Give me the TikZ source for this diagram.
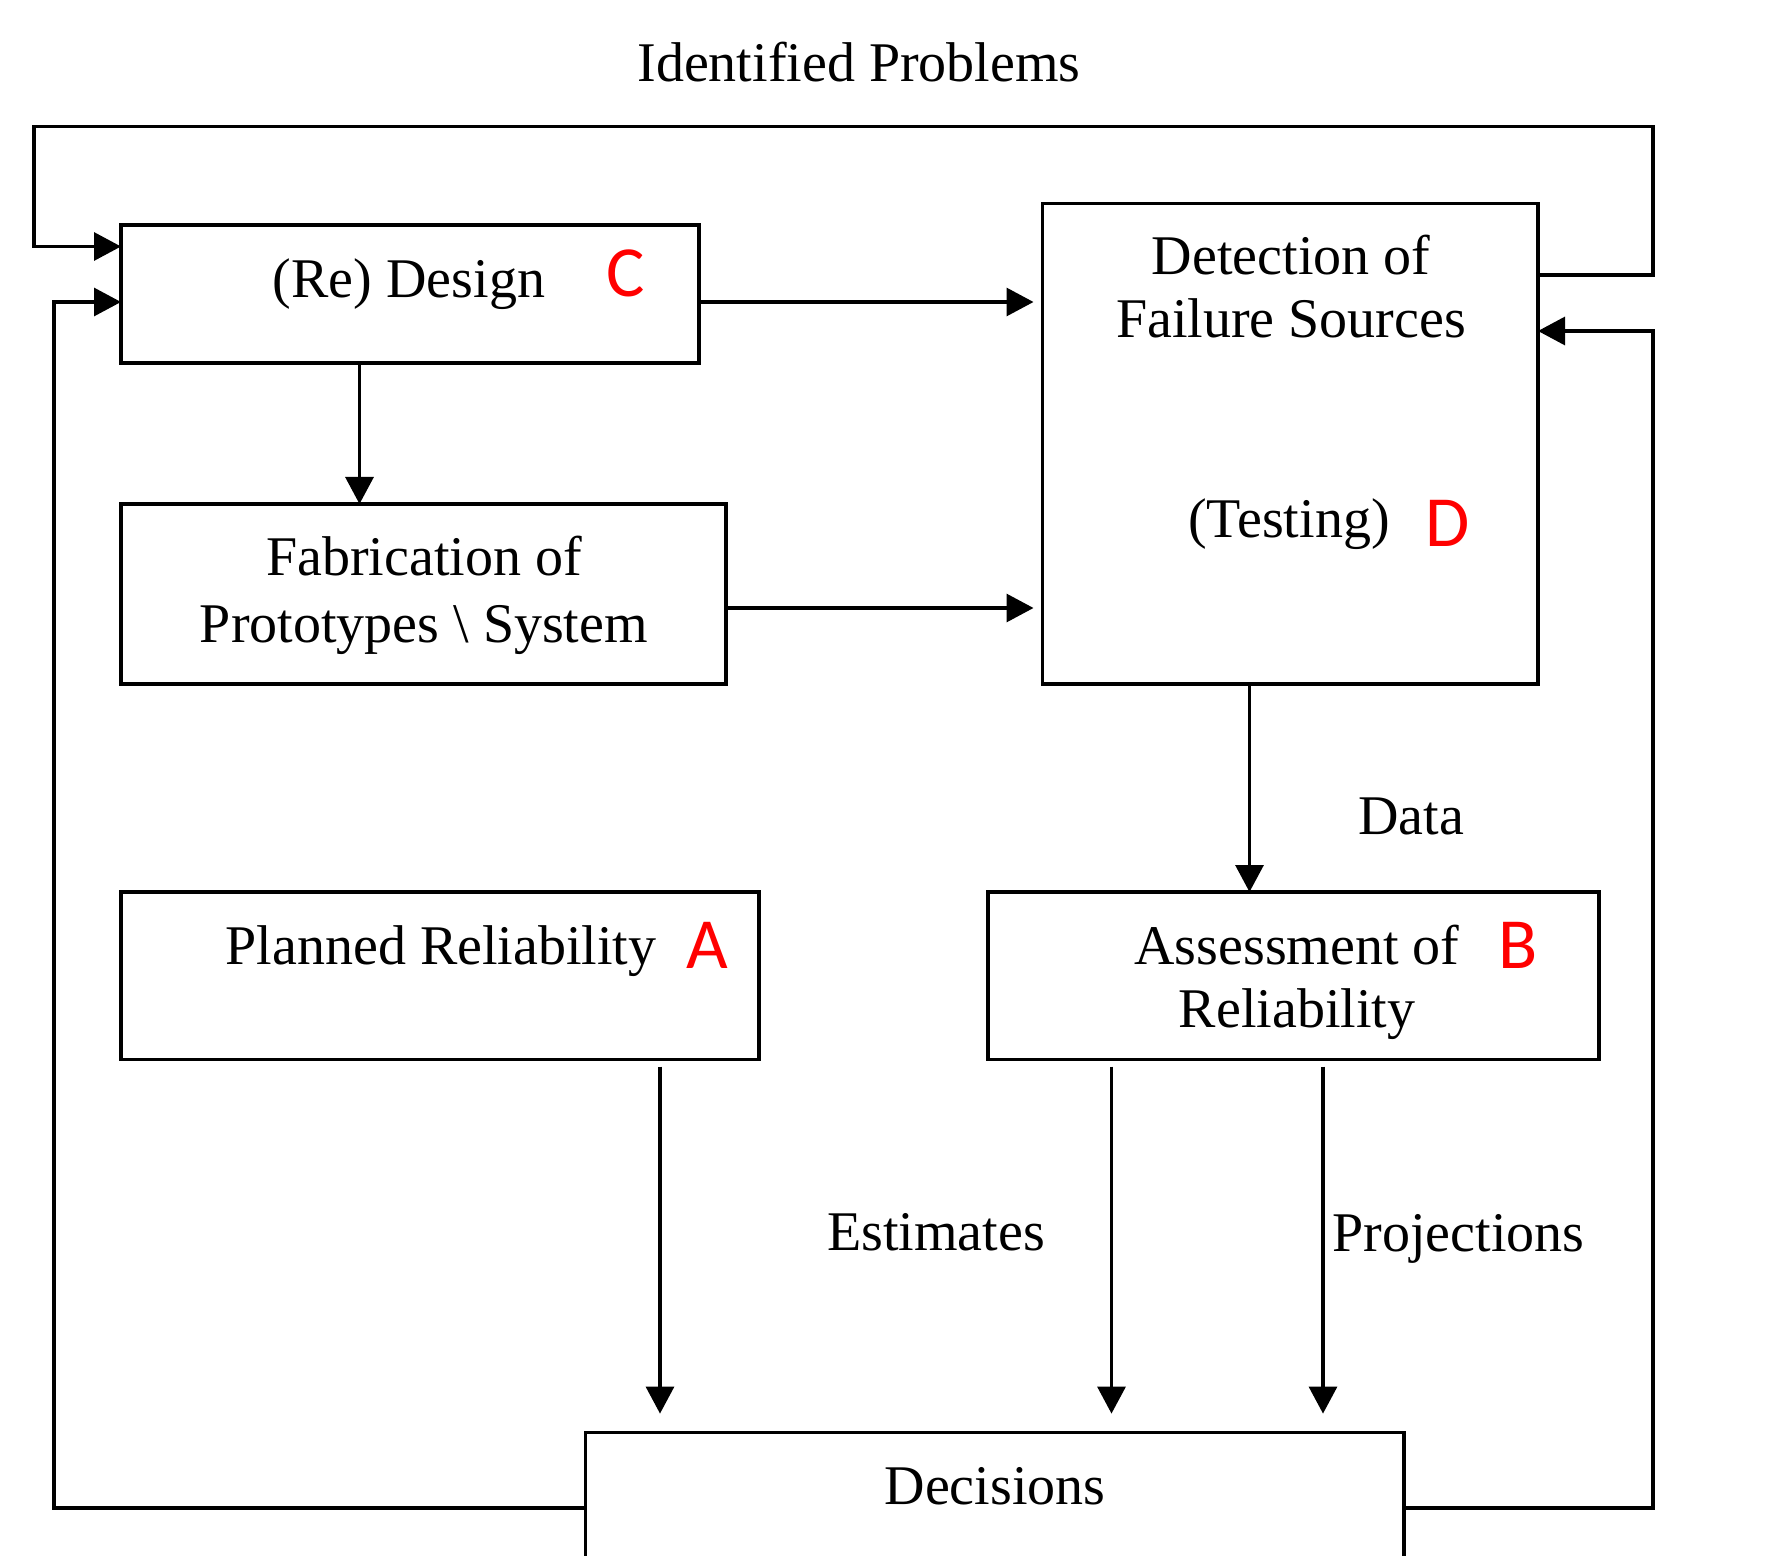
\documentclass[tikz,border=0pt]{standalone}
\usepackage{fontspec}
\setmainfont{Liberation Serif}
\newfontfamily\redfont{Carlito}
\usetikzlibrary{arrows.meta}
\definecolor{lblred}{HTML}{FF0000}
\begin{document}
\begin{tikzpicture}[x=0.5pt,y=-0.5pt,
  box/.style={draw, line width=1.6pt, rectangle, inner sep=0pt, outer sep=0pt},
  txt/.style={inner sep=0pt, align=center, font=\fontsize{28}{31.5}\selectfont},
  redlbl/.style={inner sep=0pt, text=lblred, font=\redfont\fontsize{36}{40}\selectfont},
  arr/.style={line width=1.6pt, -{Triangle[length=13.5pt,width=14pt]}}
]
\useasboundingbox (0,0) rectangle (1773,1556);

% boxes
\node[box, minimum width=289pt, minimum height=69pt] (C) at (410,294) {};
\node[box, minimum width=247.75pt, minimum height=240.25pt] (D) at (1290.25,443.75) {};
\node[box, minimum width=302.5pt, minimum height=90pt] (F) at (423.5,594) {};
\node[box, minimum width=319pt, minimum height=83.75pt] (A) at (440,975.75) {};
\node[box, minimum width=305.5pt, minimum height=83.75pt] (B) at (1293.5,975.75) {};
\node[box, minimum width=409.15pt, minimum height=100pt] (E) at (994.85,1532.6) {};

% texts
\node[txt] (tIP) at (859,62) {Identified Problems};
\node[txt] (tC) at (409,284) {(Re) Design};
\node[redlbl] (rC) at (626,273) {C};
\node[txt] (tD1) at (1291,287) {Detection of\\Failure Sources};
\node[txt] (tD2) at (1289,524) {(Testing)};
\node[redlbl] (rD) at (1448,523.5) {D};
\node[txt, font=\fontsize{28}{33.5}\selectfont] (tF) at (424,595) {Fabrication of\\Prototypes \textbackslash{} System};
\node[txt] (tA) at (441,951) {Planned Reliability};
\node[redlbl] (rA) at (707,945) {A};
\node[txt] (tB) at (1297,982) {Assessment of\\Reliability};
\node[redlbl] (rB) at (1518.5,945) {B};
\node[txt] (tE) at (995,1486) {Decisions};
\node[txt] (tData) at (1411,816) {Data};
\node[txt] (tEst) at (936,1232.5) {Estimates};
\node[txt] (tProj) at (1458.6,1238.5) {Projections};

% helper coordinates
\coordinate (hTopD) at (0,275);
\coordinate (hTop) at (0,126.6);
\coordinate (hInC1) at (0,246.5);
\coordinate (hCD) at (0,302);
\coordinate (hFD) at (0,608);
\coordinate (hRin) at (0,331);
\coordinate (hBot) at (0,1508);
\coordinate (vR) at (1653,0);
\coordinate (vL1) at (34,0);
\coordinate (vL2) at (54,0);
\coordinate (vCF) at (359.5,0);
\coordinate (vDB) at (1249.5,0);
\coordinate (vA) at (660,0);
\coordinate (vB1) at (1111.5,0);
\coordinate (vB2) at (1323,0);

% top feedback loop
\draw[arr] (D.east |- hTopD) -- (vR |- hTopD) -- (vR |- hTop) -- (vL1 |- hTop) -- (vL1 |- hInC1) -- (C.west |- hInC1);
% C -> D
\draw[arr, shorten >=4.5pt] (C.east |- hCD) -- (D.west |- hCD);
% C -> F
\draw[arr] (C.south -| vCF) -- (F.north -| vCF);
% F -> D
\draw[arr, shorten >=4.5pt] (F.east |- hFD) -- (D.west |- hFD);
% D -> B
\draw[arr] (D.south -| vDB) -- (B.north -| vDB);
% A, B -> Decisions
\draw[arr, shorten <=3.5pt, shorten >=9.5pt] (A.south -| vA) -- (E.north -| vA);
\draw[arr, shorten <=3.5pt, shorten >=9.5pt] (B.south -| vB1) -- (E.north -| vB1);
\draw[arr, shorten <=3.5pt, shorten >=9.5pt] (B.south -| vB2) -- (E.north -| vB2);
% Decisions -> C (left loop)
\draw[arr] (E.west |- hBot) -- (vL2 |- hBot) -- (vL2 |- hCD) -- (C.west |- hCD);
% Decisions -> D (right loop)
\draw[arr] (E.east |- hBot) -- (vR |- hBot) -- (vR |- hRin) -- (D.east |- hRin);
\end{tikzpicture}
\end{document}
